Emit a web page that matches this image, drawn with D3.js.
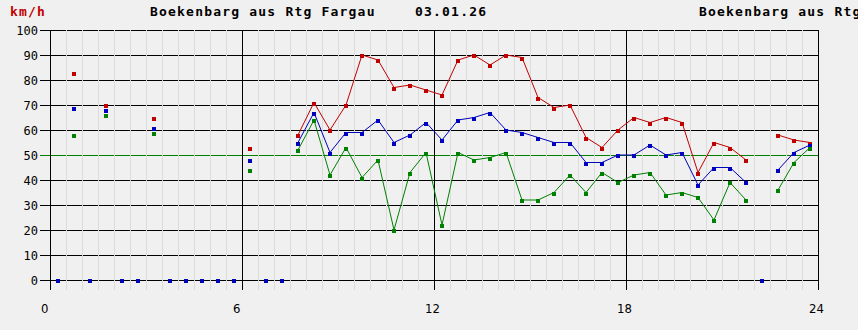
<!DOCTYPE html>
<html lang="de">
<head>
<meta charset="utf-8">
<title>Boekenbarg</title>
<script src="https://cdn.jsdelivr.net/npm/d3@7"></script>
<style>
  body { margin: 0; background: #f0f0f0; }
  svg { display: block; }
  .hdr { font-family: "DejaVu Sans Mono", monospace; font-size: 13px; font-weight: bold; letter-spacing: 1.2px; }
  .ylab { font-family: "DejaVu Sans Mono", monospace; font-size: 12px; }
  .xlab { font-family: "Liberation Sans Narrow", "DejaVu Sans Condensed", sans-serif; font-size: 13px; }
</style>
</head>
<body>
<script>
// half-hour slots, value measured at slot + 0.25 h
var hours = d3.range(48).map(function(i) { return 0.25 + i * 0.5; });

// null = no value; 0 in avg = "no traffic" marker (point only)
var vMax = [null,83,null,70,null,null,65,null,null,null,null,null,53,null,null,
  58,71,60,70,90,88,77,78,76,74,88,90,86,90,89,73,69,70,57,53,60,65,63,65,63,43,55,53,48,null,58,56,55];
var vAvg = [0,69,0,68,0,0,61,0,0,0,0,0,48,0,0,
  55,67,51,59,59,64,55,58,63,56,64,65,67,60,59,57,55,55,47,47,50,50,54,50,51,38,45,45,39,0,44,51,54];
var vMin = [null,58,null,66,null,null,59,null,null,null,null,null,44,null,null,
  52,64,42,53,41,48,20,43,51,22,51,48,49,51,32,32,35,42,35,43,39,42,43,34,35,33,24,39,32,null,36,47,53];

var yTicks = d3.range(0, 101, 10);
var xTicks = [0, 6, 12, 18, 24];

var w = 858, h = 330;
var x = d3.scaleLinear().domain([0, 24]).range([50, 818]);
var y = d3.scaleLinear().domain([0, 100]).range([280, 30]);

var svg = d3.select("body").append("svg")
  .attr("width", w).attr("height", h)
  .style("background", "#f0f0f0");

var g = svg.append("g").attr("shape-rendering", "crispEdges");

// horizontal grid
g.selectAll(".hl").data(yTicks).enter().append("line")
  .attr("x1", 40).attr("x2", 818)
  .attr("y1", function(d) { return y(d) + 0.5; })
  .attr("y2", function(d) { return y(d) + 0.5; })
  .attr("stroke", function(d) { return d === 50 ? "#008000" : "#000"; });

// minor verticals every half hour
var minor = d3.range(0.5, 24, 0.5).filter(function(d) { return d % 6 !== 0; });
g.selectAll(".vm").data(minor).enter().append("line")
  .attr("x1", function(d) { return x(d) + 0.5; })
  .attr("x2", function(d) { return x(d) + 0.5; })
  .attr("y1", 30).attr("y2", 290)
  .attr("stroke", "#dcdcdc");

// major verticals
g.selectAll(".vM").data(xTicks).enter().append("line")
  .attr("x1", function(d) { return x(d) + 0.5; })
  .attr("x2", function(d) { return x(d) + 0.5; })
  .attr("y1", 30).attr("y2", 290)
  .attr("stroke", "#000");

// labels
svg.selectAll(".ylab").data(yTicks).enter().append("text")
  .attr("class", "ylab")
  .attr("x", 38).attr("y", function(d) { return y(d) + 5; })
  .attr("text-anchor", "end")
  .text(function(d) { return d; });

svg.selectAll(".xlab").data(xTicks).enter().append("text")
  .attr("class", "xlab")
  .attr("x", function(d) { return x(d) - 9; })
  .attr("y", 313)
  .text(function(d) { return d; });

svg.append("text").attr("class", "hdr").attr("x", 10).attr("y", 16)
  .attr("fill", "#c00000").text("km/h");
svg.append("text").attr("class", "hdr").attr("x", 150).attr("y", 16)
  .text("Boekenbarg aus Rtg Fargau");
svg.append("text").attr("class", "hdr").attr("x", 415).attr("y", 16)
  .text("03.01.26");
svg.append("text").attr("class", "hdr").attr("x", 699).attr("y", 16)
  .text("Boekenbarg aus Rtg");

var series = [
  { vals: vMax, color: "#c00000" },
  { vals: vAvg, color: "#0000c0" },
  { vals: vMin, color: "#008000" }
];

var line = d3.line()
  .defined(function(d) { return d.v != null && d.v > 0; })
  .x(function(d) { return x(d.t); })
  .y(function(d) { return y(d.v); });

series.forEach(function(s) {
  var pts = hours.map(function(t, i) { return { t: t, v: s.vals[i] }; });
  svg.append("path")
    .datum(pts)
    .attr("d", line)
    .attr("fill", "none")
    .attr("stroke", s.color)
    .attr("stroke-width", 1);
  svg.selectAll(null)
    .data(pts.filter(function(d) { return d.v != null; }))
    .enter().append("rect")
    .attr("shape-rendering", "crispEdges")
    .attr("x", function(d) { return Math.round(x(d.t)) - 2; })
    .attr("y", function(d) { return Math.round(y(d.v)) - 1; })
    .attr("width", 4).attr("height", 4)
    .attr("fill", s.color);
});
</script>
</body>
</html>
